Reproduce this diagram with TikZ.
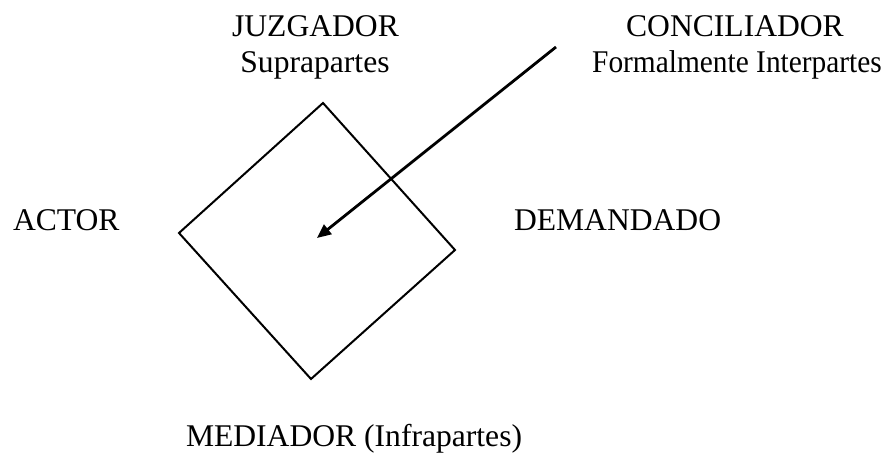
\documentclass[tikz,border=0pt]{standalone}
\usepackage{fontspec}
\setmainfont{Liberation Serif}
\usetikzlibrary{arrows.meta}

\begin{document}
\begin{tikzpicture}[x=0.5pt, y=-0.5pt, line width=1pt,
		lbl/.style={inner sep=0pt, font=\fontsize{15.8}{18}\selectfont},
		arr/.style={-{Triangle[length=7pt,width=6pt]}, line width=1.4pt}]
		\useasboundingbox (0,0) rectangle (895,453);

		\node[lbl, anchor=base] (juz) at (315.5,37) {JUZGADOR};
		\node[lbl, anchor=base] (supra) at (315,73) {Suprapartes};
		\node[lbl, anchor=base] (conc) at (735,37) {CONCILIADOR};
		\node[lbl, anchor=base, xscale=0.93] (inter) at (737,73) {Formalmente Interpartes};
		\node[lbl, anchor=base west] (actor) at (12,231) {ACTOR};
		\node[lbl, anchor=base west] (dem) at (513,231) {DEMANDADO};
		\node[lbl, anchor=base west] (med) at (185,447) {MEDIADOR (Infrapartes)};

		\coordinate (top) at (323,103);
		\coordinate (right) at (455,250);
		\coordinate (bottom) at (311,379);
		\coordinate (left) at (179,233);
		\draw (top) -- (right) -- (bottom) -- (left) -- cycle;

		\coordinate (from) at (556,47);
		\coordinate (centre) at (317,238);
		\draw[arr] (from) -- (centre);
	\end{tikzpicture}
\end{document}
